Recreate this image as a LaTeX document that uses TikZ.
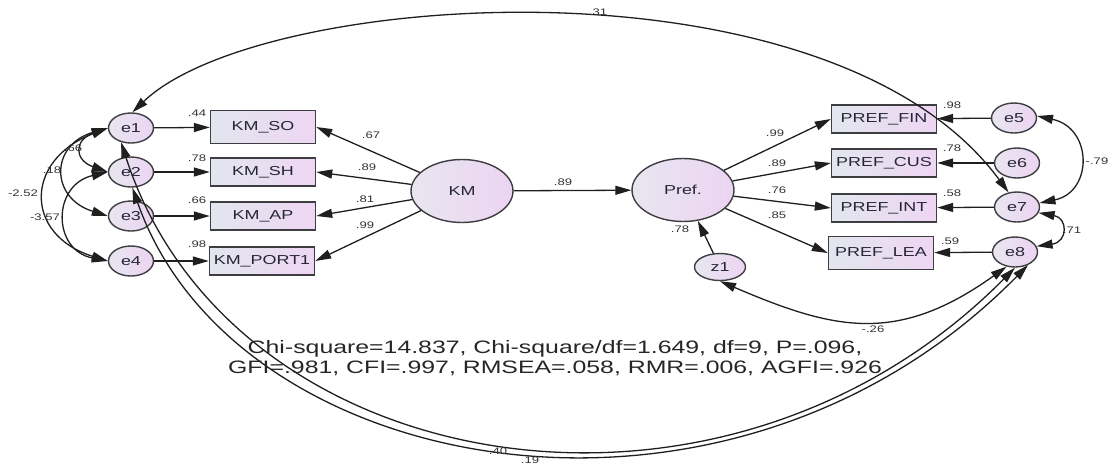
\documentclass[tikz,border=0pt]{standalone}
\usepackage{fontspec}
\setmainfont{Liberation Sans}[FakeStretch=1.38]
\usetikzlibrary{arrows.meta,shapes.geometric}
\definecolor{boxleft}{RGB}{226,230,238}
\definecolor{boxright}{RGB}{238,214,242}
\definecolor{ovalleft}{RGB}{232,230,240}
\definecolor{ovalright}{RGB}{236,212,242}
\definecolor{rim}{RGB}{62,62,66}
\definecolor{ink}{RGB}{38,38,56}
\tikzset{
  amos/.style={-{Triangle[length=16pt,width=9pt]}, line width=1.3pt, draw=black!88},
  cov/.style={{Triangle[length=16pt,width=9pt]}-{Triangle[length=16pt,width=9pt]}, line width=1.3pt, draw=black!88},
  obs/.style={draw=rim, line width=1.4pt, left color=boxleft, right color=boxright,
    minimum width=105pt, minimum height=28pt, inner sep=0pt,
    font=\fontsize{13}{15}\selectfont, text=ink},
  err/.style={ellipse, draw=rim, line width=1.4pt, left color=ovalleft, right color=ovalright,
    minimum width=45pt, minimum height=30pt, inner sep=0pt,
    font=\fontsize{13}{15}\selectfont, text=ink},
  lat/.style={err, minimum width=102pt, minimum height=63pt},
  coef/.style={font=\fontsize{9.5}{11}\selectfont, text=black!80, inner sep=0pt}
}
\begin{document}
\begin{tikzpicture}[x=1pt,y=-1pt]
\useasboundingbox (0,0) rectangle (1118,466);
% KM side
\node[err] (e1) at (131,128) {e1};
\node[err] (e2) at (131,172) {e2};
\node[err] (e3) at (131,216) {e3};
\node[err] (e4) at (131,261) {e4};
\node[obs,minimum height=33pt] (KMSO) at (263,127) {KM\_SO};
\node[obs] (KMSH) at (263,172) {KM\_SH};
\node[obs] (KMAP) at (263,216) {KM\_AP};
\node[obs] (KMPORT) at (262,261) {KM\_PORT1};
\node[lat] (KM) at (462,191) {KM};
% Pref side
\node[lat] (Pref) at (683,190) {Pref.};
\node[err,minimum width=51pt,minimum height=27pt] (z1) at (720,267) {z1};
\node[obs] (PFIN) at (884,119) {PREF\_FIN};
\node[obs] (PCUS) at (884,163) {PREF\_CUS};
\node[obs] (PINT) at (884,208) {PREF\_INT};
\node[obs,minimum height=33pt] (PLEA) at (881,253) {PREF\_LEA};
\node[err] (e5) at (1014,118) {e5};
\node[err] (e6) at (1017,163) {e6};
\node[err] (e7) at (1017,207) {e7};
\node[err] (e8) at (1015,252) {e8};
% regression paths
\draw[amos] (e1) -- (KMSO);
\draw[amos] (e2) -- (KMSH);
\draw[amos] (e3) -- (KMAP);
\draw[amos] (e4) -- (KMPORT);
\draw[amos] (KM) -- (KMSO.east);
\draw[amos] (KM) -- (KMSH.east);
\draw[amos] (KM) -- (KMAP.east);
\draw[amos] (KM) -- (KMPORT.east);
\draw[amos] (KM) -- (Pref);
\draw[amos] (z1) -- (Pref);
\draw[amos] (Pref) -- (PFIN.west);
\draw[amos] (Pref) -- (PCUS.west);
\draw[amos] (Pref) -- (PINT.west);
\draw[amos] (Pref) -- (PLEA.west);
\draw[amos] (e5) -- (PFIN);
\draw[amos] (e6) -- (PCUS);
\draw[amos] (e7) -- (PINT);
\draw[amos] (e8) -- (PLEA);
% covariances
\draw[cov] (e1.west) .. controls (74,140) and (74,160) .. (e2.west);
\draw[cov] (e1.west) .. controls (50,145) and (50,198) .. (e3.west);
\draw[cov] (e1.west) .. controls (24,160) and (24,235) .. (e4.west);
\draw[cov] (e2.west) .. controls (52,185) and (52,250) .. (e4.west);
\draw[cov] (e1.85) .. controls (260,-10) and (830,-50) .. (e7.120);
\draw[cov] (e1.235) .. controls (230,480) and (720,565) .. (e8.270);
\draw[cov] (e2.275) .. controls (235,480) and (728,570) .. (e8.315);
\draw[cov] (z1.south) .. controls (834,330) and (897,345) .. (e8.240);
\draw[cov] (e5.5) .. controls (1093,128) and (1093,192) .. (e7.10);
\draw[cov] (e7.-15) .. controls (1068,218) and (1068,242) .. (e8.15);
% estimates
\node[coef] (rso) at (197,113) {.44};
\node[coef] (rsh) at (197,158) {.78};
\node[coef] (rap) at (197,200) {.66};
\node[coef] (rport) at (197,244) {.98};
\node[coef] (wso) at (371,135) {.67};
\node[coef] (wsh) at (367,167) {.89};
\node[coef] (wap) at (365,199) {.81};
\node[coef] (wport) at (365,225) {.99};
\node[coef] (wkm) at (563,182) {.89};
\node[coef] (rpref) at (680,229) {.78};
\node[coef] (wfin) at (775,133) {.99};
\node[coef] (wcus) at (777,163) {.89};
\node[coef] (wint) at (777,190) {.76};
\node[coef] (wlea) at (777,215) {.85};
\node[coef] (rfin) at (952,105) {.98};
\node[coef] (rcus) at (952,148) {.78};
\node[coef] (rint) at (952,193) {.58};
\node[coef] (rlea) at (950,241) {.59};
\node[coef] (c57) at (1097,161) {-.79};
\node[coef] (c78) at (1072,230) {.71};
\node[coef] (cz8) at (873,329) {-.26};
\node[coef] (c17) at (598,12) {.31};
\node[coef] (c18) at (498,451) {.40};
\node[coef] (c28) at (530,460) {.19};
\node[coef] (c14) at (23,193) {-2.52};
\node[coef] (c24) at (45,217) {-3.57};
\node[coef] (c13) at (52,170) {.18};
\node[coef] (c12) at (73,148) {.66};
% fit indices
\node[font=\fontsize{18}{20}\selectfont, align=center, text=black!85, inner sep=0pt] (fit) at (555,358)
  {Chi-square=14.837, Chi-square/df=1.649, df=9, P=.096,\\GFI=.981, CFI=.997, RMSEA=.058, RMR=.006, AGFI=.926};
\end{tikzpicture}
\end{document}
